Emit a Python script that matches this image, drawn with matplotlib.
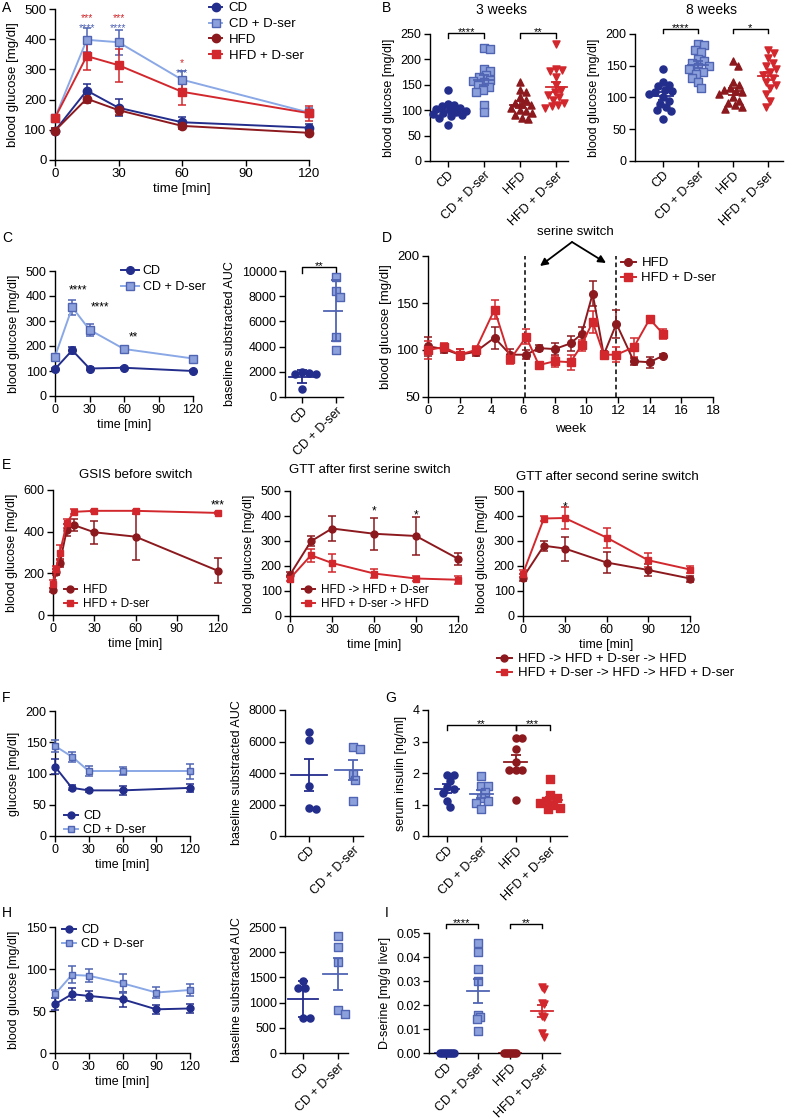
import numpy as np
import matplotlib.pyplot as plt
from matplotlib.ticker import FormatStrFormatter

plt.rcParams['font.family'] = ['Liberation Sans', 'DejaVu Sans']
plt.rcParams['font.size'] = 9
plt.rcParams['axes.linewidth'] = 1.0
for a in ('xtick', 'ytick'):
    plt.rcParams[a + '.major.size'] = 4
    plt.rcParams[a + '.major.width'] = 1.0
    plt.rcParams[a + '.major.pad'] = 2
    plt.rcParams[a + '.labelsize'] = 9

W, H = 787, 1119

CD_C = '#232d8c'
CDS_F = '#8ca0dc'
CDS_E = '#5064b4'
CDS_L = '#8aa8e6'
HFD_C = '#8c191e'
HFDS_C = '#d2282d'

# line colour, face colour, edge colour
STY = {
    'CD': (CD_C, CD_C, CD_C),
    'CDS': (CDS_L, CDS_F, CDS_E),
    'HFD': (HFD_C, HFD_C, HFD_C),
    'HFDS': (HFDS_C, HFDS_C, HFDS_C),
}

# ---------------- data ----------------
# A: GTT
a_t = [0, 15, 30, 60, 120]
a_cd = [97, 230, 173, 125, 107]
a_cd_e = [8, 22, 28, 18, 12]
a_cds = [140, 398, 390, 266, 157]
a_cds_e = [10, 40, 42, 30, 15]
a_hfd = [97, 203, 165, 113, 90]
a_hfd_e = [8, 15, 15, 10, 6]
a_hfds = [140, 344, 314, 226, 155]
a_hfds_e = [10, 45, 55, 45, 25]
a_star_t = [15, 30, 60]
a_star_red = ['***', '***', '*']
a_star_blue = ['****', '****', '***']
a_star_red_y = [484, 484, 334]
a_star_blue_y = [452, 452, 302]

# B: fasting glucose
b_cats = ['CD', 'CD + D-ser', 'HFD', 'HFD + D-ser']
b3_cd = [140, 112, 110, 108, 105, 103, 100, 98, 97, 95, 92, 90, 88, 85, 70]
b3_cds = [222, 220, 182, 178, 170, 165, 160, 158, 155, 150, 145, 140, 135, 110, 97]
b3_hfd = [155, 140, 135, 125, 120, 115, 112, 110, 105, 100, 98, 95, 90, 85, 83]
b3_hfds = [230, 182, 180, 178, 165, 150, 140, 135, 130, 125, 120, 115, 110, 108, 105]
b3_err = [4, 10, 6, 10]
b8_cd = [145, 125, 120, 118, 112, 110, 108, 105, 100, 95, 90, 85, 80, 78, 66]
b8_cds = [185, 183, 175, 172, 160, 157, 155, 150, 148, 145, 140, 137, 130, 125, 115]
b8_hfd = [158, 150, 125, 120, 115, 112, 110, 108, 105, 100, 95, 92, 88, 85, 82]
b8_hfds = [175, 170, 162, 155, 150, 145, 140, 135, 130, 125, 120, 115, 105, 95, 85]
b8_err = [6, 5, 6, 7]

# C: GTT + AUC
c_t = [0, 15, 30, 60, 120]
c_cd = [108, 183, 110, 113, 100]
c_cd_e = [5, 15, 5, 5, 4]
c_cds = [158, 355, 265, 188, 150]
c_cds_e = [6, 30, 25, 8, 8]
c_star_t = [20, 39, 68]
c_star_y = [440, 370, 250]
c_star_txt = ['****', '****', '**']
c_auc_cd = [2000, 1900, 1800, 1800, 600]
c_auc_cds = [9500, 8400, 7900, 4800, 3700]
c_auc_err = [530, 2450]

# D: weekly glucose
d_wk = [0, 1, 2, 3, 4.2, 5.2, 6.2, 7, 8, 9, 9.7, 10.4, 11.1, 11.9, 13, 14, 14.85]
d_hfd = [104, 101, 95, 98, 113, 95, 95, 102, 101, 107, 117, 160, 95, 128, 88, 87, 94]
d_hfd_e = [10, 4, 6, 4, 12, 6, 5, 3, 6, 8, 8, 13, 4, 15, 4, 6, 2]
d_hfds = [100, 103, 95, 100, 143, 90, 114, 84, 88, 87, 105, 130, 95, 95, 103, 133, 117]
d_hfds_e = [10, 4, 6, 4, 10, 5, 8, 3, 6, 8, 6, 12, 4, 8, 10, 3, 5]
d_switch = [6.15, 11.9]

# E
e1_t = [0, 2, 5, 10, 15, 30, 60, 120]
e1_hfd = [120, 205, 250, 408, 432, 397, 376, 212]
e1_hfd_e = [10, 15, 20, 30, 28, 55, 110, 60]
e1_hfds = [150, 220, 300, 440, 495, 500, 500, 490]
e1_hfds_e = [20, 15, 35, 20, 12, 6, 4, 5]
e2_t = [0, 15, 30, 60, 90, 120]
e2_a = [165, 299, 350, 329, 320, 229]
e2_a_e = [10, 20, 50, 65, 75, 25]
e2_b = [150, 243, 212, 170, 150, 145]
e2_b_e = [10, 25, 35, 18, 10, 15]
e3_t = [0, 15, 30, 60, 90, 120]
e3_a = [154, 281, 270, 214, 184, 150]
e3_a_e = [15, 20, 48, 42, 25, 12]
e3_b = [170, 390, 392, 314, 223, 186]
e3_b_e = [15, 10, 45, 40, 28, 15]

# F
f_t = [0, 15, 30, 60, 120]
f_cd = [111, 77, 73, 73, 77]
f_cd_e = [12, 4, 3, 7, 6]
f_cds = [144, 127, 104, 104, 104]
f_cds_e = [10, 8, 8, 6, 12]
f_auc_cd = [6600, 6100, 3200, 1700, 1750]
f_auc_cds = [5650, 5500, 3950, 3550, 2250]
f_auc_err = [1030, 640]

# G: insulin
g_cd = [1.95, 1.93, 1.75, 1.55, 1.5, 1.35, 1.1, 0.92]
g_cds = [1.9, 1.6, 1.6, 1.4, 1.2, 1.1, 1.05, 0.85]
g_hfd = [3.1, 3.1, 2.75, 2.35, 2.1, 2.1, 2.1, 1.15]
g_hfds = [1.8, 1.3, 1.2, 1.1, 1.05, 1.0, 0.9, 0.85]
g_err = [0.13, 0.12, 0.22, 0.1]

# H
h_t = [0, 15, 30, 60, 90, 120]
h_cd = [58, 70, 68, 64, 52, 53]
h_cd_e = [7, 7, 6, 9, 5, 5]
h_cds = [70, 93, 92, 83, 72, 75]
h_cds_e = [5, 10, 8, 11, 6, 7]
h_auc_cd = [1420, 1290, 1280, 700, 690]
h_auc_cds = [2330, 2100, 1800, 850, 780]
h_auc_err = [360, 320]

# I: D-serine in liver
i_cd = [0, 0, 0, 0, 0, 0, 0, 0]
i_cds = [0.046, 0.042, 0.035, 0.030, 0.016, 0.015, 0.014, 0.009]
i_hfd = [0, 0, 0, 0, 0, 0, 0]
i_hfds = [0.0275, 0.0265, 0.021, 0.0205, 0.0155, 0.015, 0.0085, 0.0065]
i_err = [0.0, 0.005, 0.0, 0.0025]


# ---------------- helpers ----------------
fig = plt.figure(figsize=(W / 100, H / 100), dpi=100)


def fxy(x, y):
    return x / W, 1 - y / H


def box(x0, y0, x1, y1):
    ax = fig.add_axes([x0 / W, 1 - y1 / H, (x1 - x0) / W, (y1 - y0) / H])
    ax.spines['top'].set_visible(False)
    ax.spines['right'].set_visible(False)
    ax.patch.set_alpha(0)
    return ax


def swarm(vals, dy, dx):
    # spread close points sideways, beeswarm style
    v = np.asarray(vals, float) / dy
    u = np.zeros(len(v))
    done = []
    cand = [0.0]
    for k in np.arange(0.25, 6.01, 0.25):
        cand += [k, -k]
    for i in np.argsort(-v):
        for c in cand:
            if all((c - u[j]) ** 2 + (v[i] - v[j]) ** 2 >= 0.9 for j in done):
                u[i] = c
                break
        done.append(i)
    return u * dx


def curve(ax, t, m, e, key, mk, label=None, ms=5.5):
    lc, fc, ec = STY[key]
    ax.errorbar(t, m, yerr=e, fmt='none', ecolor=ec, elinewidth=1.1,
                capsize=2.8, capthick=1.1, clip_on=False, zorder=3)
    ax.plot(t, m, color=lc, lw=1.4, marker=mk, ms=ms, mfc=fc, mec=ec, mew=1.0,
            label=label, clip_on=False, zorder=4)


def dots(ax, i, vals, err, key, mk, dy, dx, hw, cap=3.5, s=26):
    lc, fc, ec = STY[key]
    v = np.asarray(vals, float)
    ax.scatter(i + swarm(v, dy, dx), v, s=s, marker=mk, c=fc, edgecolors=ec,
               linewidths=1.0, clip_on=False, zorder=3)
    m = v.mean()
    ax.plot([i - hw, i + hw], [m, m], color=ec, lw=1.3, zorder=4)
    ax.errorbar(i, m, yerr=err, fmt='none', ecolor=ec, elinewidth=1.3,
                capsize=cap, capthick=1.3, zorder=4)


def cat_axis(ax, cats):
    ax.set_xticks(range(len(cats)))
    ax.set_xticklabels(cats, rotation=45, ha='right', rotation_mode='anchor')


def bracket(ax, x0, x1, y, arm, txt):
    ax.plot([x0, x0, x1, x1], [y - arm, y, y, y - arm], color='k', lw=1.0, clip_on=False)
    ax.annotate(txt, ((x0 + x1) / 2, y), xytext=(0, -3), textcoords='offset points',
                ha='center', va='bottom', fontsize=8, annotation_clip=False)


def stars(ax, x, y, txt, color='k', fs=8.5):
    ax.annotate(txt, (x, y), xytext=(0, -3), textcoords='offset points', ha='center',
                va='center', color=color, fontsize=fs, annotation_clip=False)


def legend(ax, x, y, fs, hl, tp, ls):
    ax.legend(loc='upper left', bbox_to_anchor=fxy(x, y), bbox_transform=fig.transFigure,
              frameon=False, fontsize=fs, handlelength=hl, handletextpad=tp,
              labelspacing=ls, borderpad=0, borderaxespad=0)


def letter(x, y, s):
    fig.text(*fxy(x, y), s, fontsize=10, va='center', ha='left')


def time_axis(ax, ymax, ystep):
    ax.set_xlim(0, 120)
    ax.set_xticks([0, 30, 60, 90, 120])
    ax.set_ylim(0, ymax)
    ax.set_yticks(np.arange(0, ymax + 1, ystep))
    ax.set_xlabel('time [min]', labelpad=2)


# ---------------- A ----------------
letter(2, 8, 'A')
ax = box(55, 9, 309, 160)
curve(ax, a_t, a_cd, a_cd_e, 'CD', 'o', 'CD', ms=6)
curve(ax, a_t, a_cds, a_cds_e, 'CDS', 's', 'CD + D-ser', ms=6)
curve(ax, a_t, a_hfd, a_hfd_e, 'HFD', 'o', 'HFD', ms=6)
curve(ax, a_t, a_hfds, a_hfds_e, 'HFDS', 's', 'HFD + D-ser', ms=6)
for t_, sr, sb, yr, yb in zip(a_star_t, a_star_red, a_star_blue, a_star_red_y, a_star_blue_y):
    stars(ax, t_, yr, sr, HFDS_C, fs=7.5)
    stars(ax, t_, yb, sb, CDS_E, fs=7.5)
time_axis(ax, 500, 100)
ax.tick_params(labelsize=9.5)
ax.set_ylabel('blood glucose [mg/dl]', fontsize=9.5)
ax.xaxis.label.set_size(9.5)
legend(ax, 209, 2, 9.5, 1.0, 0.5, 0.28)

# ---------------- B ----------------
letter(382, 8, 'B')
b_mk = ['o', 's', '^', 'v']
b_keys = ['CD', 'CDS', 'HFD', 'HFDS']
ax = box(430, 34, 568, 161)
for i, (v, e) in enumerate(zip([b3_cd, b3_cds, b3_hfd, b3_hfds], b3_err)):
    dots(ax, i, v, e, b_keys[i], b_mk[i], 13, 0.17, 0.29)
ax.set_xlim(-0.5, 3.33)
ax.set_ylim(0, 250)
ax.set_yticks(range(0, 251, 50))
cat_axis(ax, b_cats)
ax.set_ylabel('blood glucose [mg/dl]')
bracket(ax, 0, 1, 252, 9, '****')
bracket(ax, 2, 3, 252, 9, '**')
fig.text(*fxy(502, 10), '3 weeks', fontsize=10, ha='center', va='center')

ax = box(635, 34, 783, 161)
for i, (v, e) in enumerate(zip([b8_cd, b8_cds, b8_hfd, b8_hfds], b8_err)):
    dots(ax, i, v, e, b_keys[i], b_mk[i], 11, 0.18, 0.29)
ax.set_xlim(-0.8, 3.43)
ax.set_ylim(0, 200)
ax.set_yticks(range(0, 201, 50))
cat_axis(ax, b_cats)
ax.set_ylabel('blood glucose [mg/dl]')
bracket(ax, 0, 1, 208, 7, '****')
bracket(ax, 2, 3, 208, 7, '*')
fig.text(*fxy(712, 10), '8 weeks', fontsize=10, ha='center', va='center')

# ---------------- C ----------------
letter(2, 238, 'C')
ax = box(55, 271, 193, 396)
curve(ax, c_t, c_cd, c_cd_e, 'CD', 'o', 'CD')
curve(ax, c_t, c_cds, c_cds_e, 'CDS', 's', 'CD + D-ser')
for t_, y_, s_ in zip(c_star_t, c_star_y, c_star_txt):
    stars(ax, t_, y_, s_)
time_axis(ax, 500, 100)
ax.set_ylabel('blood glucose [mg/dl]')
legend(ax, 121, 265, 9, 1.45, 0.3, 0.32)

ax = box(285, 271, 343, 397)
dots(ax, 0, c_auc_cd, c_auc_err[0], 'CD', 'o', 560, 0.2, 0.37)
dots(ax, 1, c_auc_cds, c_auc_err[1], 'CDS', 's', 560, 0.2, 0.37)
ax.set_xlim(-0.5, 1.2)
ax.set_ylim(0, 10000)
ax.set_yticks(range(0, 10001, 2000))
cat_axis(ax, ['CD', 'CD + D-ser'])
ax.set_ylabel('baseline substracted AUC')
bracket(ax, 0, 1, 10350, 500, '**')

# ---------------- D ----------------
letter(382, 238, 'D')
ax = box(428, 256, 713, 397)
curve(ax, d_wk, d_hfd, d_hfd_e, 'HFD', 'o', 'HFD')
curve(ax, d_wk, d_hfds, d_hfds_e, 'HFDS', 's', 'HFD + D-ser')
for w in d_switch:
    ax.plot([w, w], [50, 200], color='k', lw=1.1, ls=(0, (3, 2)), zorder=2)
ax.set_xlim(0, 18)
ax.set_xticks(range(0, 19, 2))
ax.set_ylim(50, 200)
ax.set_yticks([50, 100, 150, 200])
ax.tick_params(labelsize=9.5)
ax.set_xlabel('week', fontsize=9.5)
ax.set_ylabel('blood glucose [mg/dl]', fontsize=9.5)
legend(ax, 621, 257, 9.5, 1.1, 0.45, 0.22)
fig.text(*fxy(575, 232), 'serine switch', fontsize=9.5, ha='center', va='center')
for tip in [(540, 266), (606, 263)]:
    ax.annotate('', xy=fxy(*tip), xycoords='figure fraction', xytext=fxy(572, 242),
                textcoords='figure fraction', annotation_clip=False,
                arrowprops=dict(arrowstyle='-|>', color='k', lw=1.3, mutation_scale=11,
                                shrinkA=0, shrinkB=0))

# ---------------- E ----------------
letter(2, 465, 'E')
ax = box(53, 490, 218, 615)
curve(ax, e1_t, e1_hfd, e1_hfd_e, 'HFD', 'o', 'HFD', ms=5)
curve(ax, e1_t, e1_hfds, e1_hfds_e, 'HFDS', 's', 'HFD + D-ser', ms=5)
stars(ax, 120, 545, '***')
time_axis(ax, 600, 200)
ax.set_ylabel('blood glucose [mg/dl]')
legend(ax, 64, 584, 8.5, 1.1, 0.5, 0.15)
fig.text(*fxy(136, 475), 'GSIS before switch', fontsize=9.5, ha='center', va='center')

ax = box(290, 491, 458, 616)
curve(ax, e2_t, e2_a, e2_a_e, 'HFD', 'o', 'HFD -> HFD + D-ser', ms=5)
curve(ax, e2_t, e2_b, e2_b_e, 'HFDS', 's', 'HFD + D-ser -> HFD', ms=5)
stars(ax, 60, 436, '*')
stars(ax, 90, 420, '*')
time_axis(ax, 500, 100)
ax.set_ylabel('blood glucose [mg/dl]')
legend(ax, 302, 584, 8.5, 1.1, 0.5, 0.15)
fig.text(*fxy(370, 470), 'GTT after first serine switch', fontsize=9.5, ha='center', va='center')

ax = box(523, 491, 690, 616)
curve(ax, e3_t, e3_a, e3_a_e, 'HFD', 'o', 'HFD -> HFD + D-ser -> HFD', ms=5)
curve(ax, e3_t, e3_b, e3_b_e, 'HFDS', 's', 'HFD + D-ser -> HFD -> HFD + D-ser', ms=5)
stars(ax, 30, 450, '*')
time_axis(ax, 500, 100)
ax.set_ylabel('blood glucose [mg/dl]')
legend(ax, 497, 653, 9.5, 1.1, 0.5, 0.15)
fig.text(*fxy(607, 477), 'GTT after second serine switch', fontsize=9.5, ha='center', va='center')

# ---------------- F ----------------
letter(2, 698, 'F')
ax = box(55, 711, 190, 836)
curve(ax, f_t, f_cd, f_cd_e, 'CD', 'o', 'CD', ms=5)
curve(ax, f_t, f_cds, f_cds_e, 'CDS', 's', 'CD + D-ser', ms=5)
time_axis(ax, 200, 50)
ax.set_ylabel('glucose [mg/dl]')
legend(ax, 64, 810, 9, 1.1, 0.45, 0.15)

ax = box(285, 710, 363, 836)
dots(ax, 0, f_auc_cd, f_auc_err[0], 'CD', 'o', 430, 0.16, 0.41)
dots(ax, 1, f_auc_cds, f_auc_err[1], 'CDS', 's', 430, 0.16, 0.41)
ax.set_xlim(-0.55, 1.23)
ax.set_ylim(0, 8000)
ax.set_yticks(range(0, 8001, 2000))
cat_axis(ax, ['CD', 'CD + D-ser'])
ax.set_ylabel('baseline substracted AUC')

# ---------------- G ----------------
letter(385, 698, 'G')
ax = box(428, 710, 567, 836)
g_mk = ['o', 's', 'o', 's']
for i, (v, e) in enumerate(zip([g_cd, g_cds, g_hfd, g_hfds], g_err)):
    dots(ax, i, v, e, b_keys[i], g_mk[i], 0.22, 0.2, 0.34)
ax.set_xlim(-0.55, 3.5)
ax.set_ylim(0, 4)
ax.set_yticks(range(0, 5))
cat_axis(ax, b_cats)
ax.set_ylabel('serum insulin [ng/ml]')
bracket(ax, 0, 2, 3.52, 0.15, '**')
bracket(ax, 2, 3, 3.52, 0.15, '***')

# ---------------- H ----------------
letter(2, 913, 'H')
ax = box(55, 927, 190, 1053)
curve(ax, h_t, h_cd, h_cd_e, 'CD', 'o', 'CD', ms=5)
curve(ax, h_t, h_cds, h_cds_e, 'CDS', 's', 'CD + D-ser', ms=5)
time_axis(ax, 150, 50)
ax.set_ylabel('blood glucose [mg/dl]')
legend(ax, 62, 924, 9, 1.1, 0.45, 0.15)

ax = box(285, 927, 348, 1053)
dots(ax, 0, h_auc_cd, h_auc_err[0], 'CD', 'o', 140, 0.2, 0.43)
dots(ax, 1, h_auc_cds, h_auc_err[1], 'CDS', 's', 140, 0.2, 0.43)
ax.set_xlim(-0.51, 1.29)
ax.set_ylim(0, 2500)
ax.set_yticks(range(0, 2501, 500))
cat_axis(ax, ['CD', 'CD + D-ser'])
ax.set_ylabel('baseline substracted AUC')

# ---------------- I ----------------
letter(385, 913, 'I')
ax = box(429, 933, 560, 1053)
i_mk = ['o', 's', 'o', 'v']
for i, (v, e) in enumerate(zip([i_cd, i_cds, i_hfd, i_hfds], i_err)):
    dots(ax, i, v, e, b_keys[i], i_mk[i], 0.0028, 0.06, 0.35)
ax.set_xlim(-0.53, 3.56)
ax.set_ylim(0, 0.05)
ax.set_yticks(np.arange(0, 0.051, 0.01))
ax.yaxis.set_major_formatter(FormatStrFormatter('%.2f'))
cat_axis(ax, b_cats)
ax.set_ylabel('D-serine [mg/g liver]')
bracket(ax, 0, 1, 0.0538, 0.0017, '****')
bracket(ax, 2, 3, 0.0538, 0.0017, '**')

fig.savefig('out.png', dpi=100)
